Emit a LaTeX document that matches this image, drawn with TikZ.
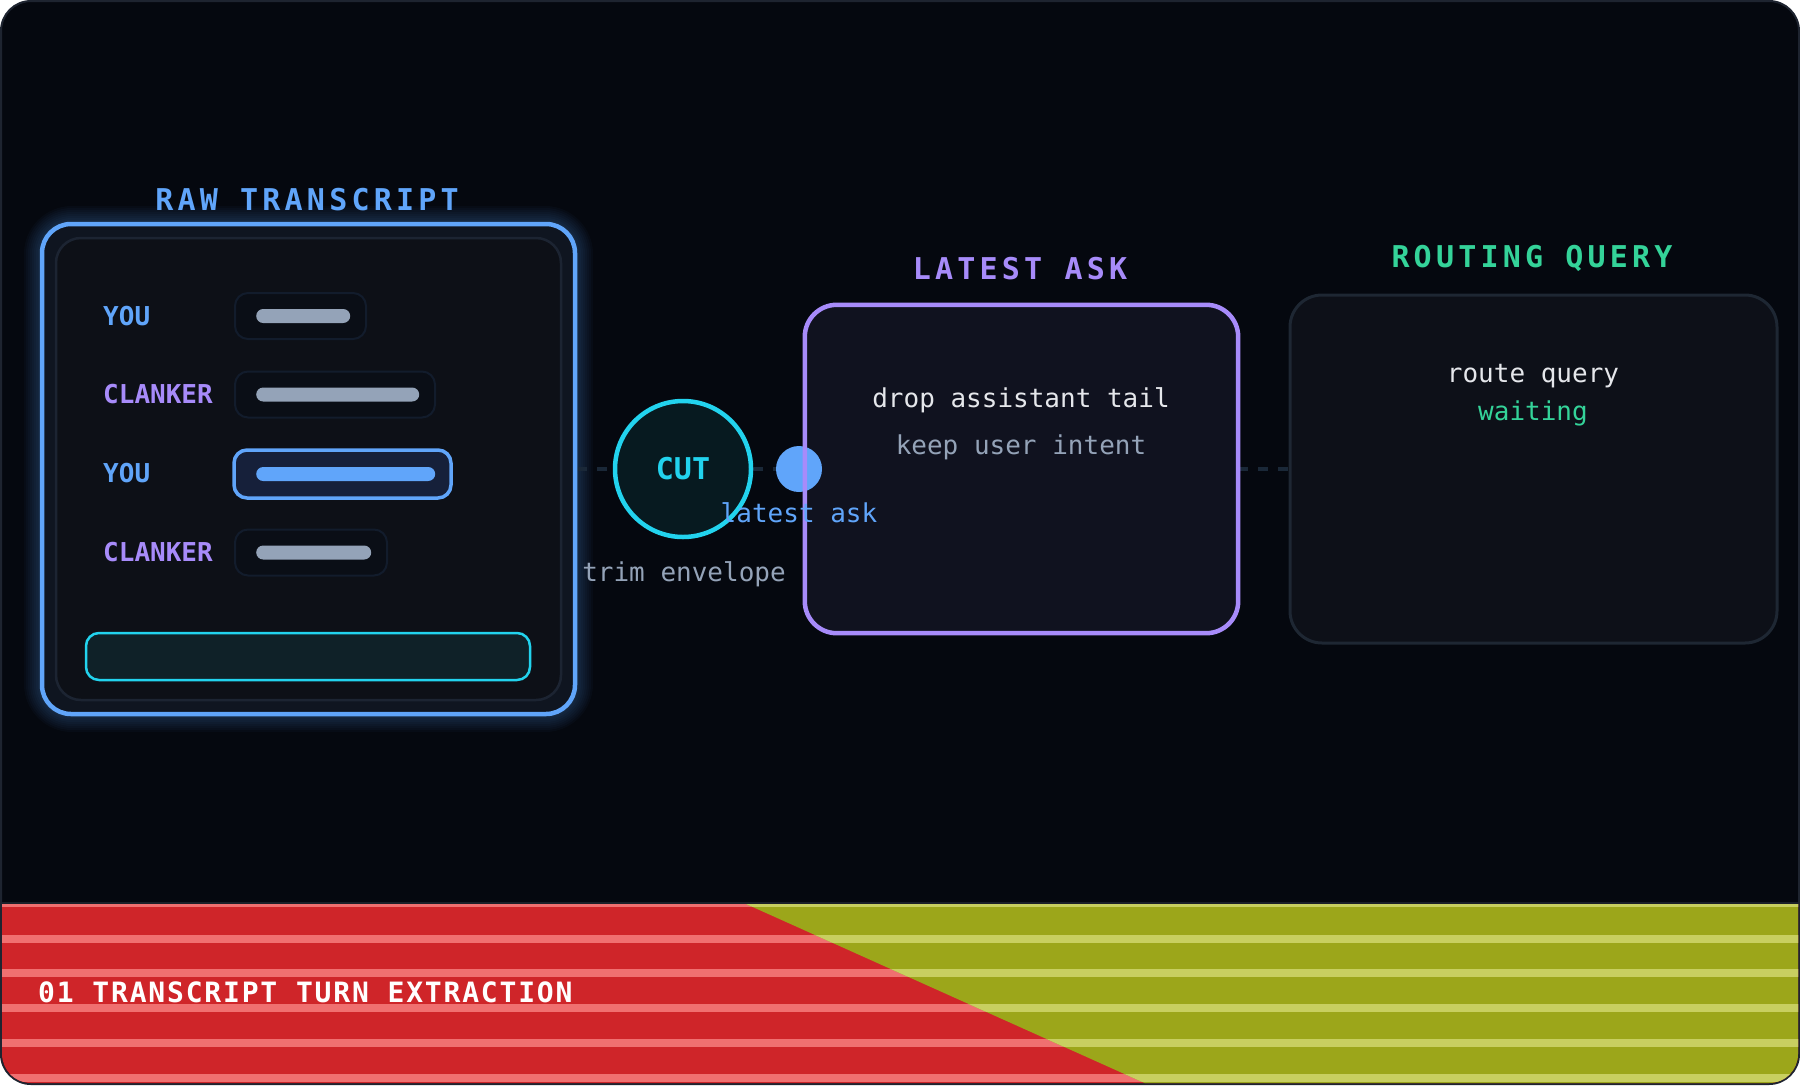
\documentclass[tikz,border=0pt]{standalone}
\usepackage{fontspec}
\newfontfamily\mono{DejaVu Sans Mono}
\newfontfamily\monotitle[LetterSpace=14]{DejaVu Sans Mono}
\newfontfamily\monoband[LetterSpace=6.5]{DejaVu Sans Mono}
\usetikzlibrary{calc}
\pgfdeclarelayer{back}
\pgfdeclarelayer{mid}
\pgfsetlayers{back,mid,main}
\definecolor{bgc}{HTML}{05080F}
\definecolor{framec}{HTML}{1E2430}
\definecolor{bluec}{HTML}{60A5FA}
\definecolor{purplec}{HTML}{A78BFA}
\definecolor{cyanc}{HTML}{22D3EE}
\definecolor{greenc}{HTML}{34D399}
\definecolor{grayc}{HTML}{94A3B8}
\definecolor{whitec}{HTML}{E5E7EB}
\definecolor{gapc}{HTML}{0F1520}
\definecolor{panelfill}{HTML}{0D1017}
\definecolor{panelborder}{HTML}{1C2432}
\definecolor{pillfill}{HTML}{0A0E16}
\definecolor{pillborder}{HTML}{121C2C}
\definecolor{hlfill}{HTML}{16203A}
\definecolor{barfill}{HTML}{0F2128}
\definecolor{cutfill}{HTML}{071A20}
\definecolor{latestfill}{HTML}{10121F}
\definecolor{routefill}{HTML}{0D1018}
\definecolor{routeborder}{HTML}{1E2733}
\definecolor{dashc}{HTML}{1A2838}
\definecolor{redc}{HTML}{CF2529}
\definecolor{redstripe}{HTML}{F07070}
\definecolor{olivec}{HTML}{9CA61A}
\definecolor{olivestripe}{HTML}{C8CF60}
\definecolor{sepc}{HTML}{1B2029}
\begin{document}
\begin{tikzpicture}[x=1pt,y=-1pt,
  titletext/.style={font=\monotitle\bfseries\fontsize{30}{36}\selectfont, inner sep=0},
  bodytext/.style={font=\mono\fontsize{26}{30}\selectfont, inner sep=0},
  whotext/.style={font=\mono\bfseries\fontsize{26}{30}\selectfont, anchor=west, inner sep=0},
  pill/.style={rectangle, rounded corners=13, fill=pillfill, draw=pillborder, line width=2, inner sep=0, minimum height=46},
  bar/.style={rectangle, rounded corners=7, fill=grayc, inner sep=0, minimum height=14, anchor=west},
  conn/.style={draw=dashc, line width=3.5, dash pattern=on 10pt off 10pt}]
\useasboundingbox (0,0) rectangle (1800,1085);
\begin{pgfonlayer}{back}
\path[fill=bgc, draw=framec, line width=2, rounded corners=30] (1,1) rectangle (1799,1084);
\begin{scope}
\clip[rounded corners=29] (2,2) rectangle (1798,1083);
\fill[redc] (0,904) rectangle (1800,1085);
\foreach \y/\h in {904/2.5,935/7.5,969/8,1004/8,1039/8,1074/8} \fill[redstripe] (0,\y) rectangle (1800,\y+\h);
\begin{scope}
\clip (746,904) -- (1800,904) -- (1800,1085) -- (1149,1085) -- cycle;
\fill[olivec] (0,904) rectangle (1800,1085);
\foreach \y/\h in {904/2.5,935/7.5,969/8,1004/8,1039/8,1074/8} \fill[olivestripe] (0,\y) rectangle (1800,\y+\h);
\end{scope}
\end{scope}
\draw[sepc, line width=2] (2,903) -- (1798,903);
% glow
\foreach \g in {2,4,...,18} {
  \fill[bluec, opacity=0.03, rounded corners=30+\g] (42-\g,224-\g) rectangle (575+\g,714+\g);
}
\end{pgfonlayer}

% left panel
\node[rectangle, rounded corners=29, fill=gapc, draw=bluec, line width=4.5, minimum width=533, minimum height=490, inner sep=0] (outer) at (308.5,469) {};
\node[rectangle, rounded corners=25, fill=panelfill, draw=panelborder, line width=2.5, minimum width=505, minimum height=462, inner sep=0] (inner) at (308.5,469) {};
\node[titletext, text=bluec] (rawtitle) at (307,200) {RAW TRANSCRIPT};

\node[whotext, text=bluec] (who1) at (103,316) {YOU};
\node[pill, minimum width=131] (p1) at (300.5,316) {};
\node[bar, minimum width=94] (b1) at (256,316) {};

\node[whotext, text=purplec] (who2) at (103,394.5) {CLANKER};
\node[pill, minimum width=200] (p2) at (335,394.5) {};
\node[bar, minimum width=163] (b2) at (256,394.5) {};

\node[whotext, text=bluec] (who3) at (103,473.5) {YOU};
\node[pill, minimum width=217, minimum height=48, fill=hlfill, draw=bluec, line width=3.5] (p3) at (342.5,474) {};
\node[bar, minimum width=179, fill=bluec] (b3) at (256,474) {};

\node[whotext, text=purplec] (who4) at (103,552.5) {CLANKER};
\node[pill, minimum width=152] (p4) at (311,552.5) {};
\node[bar, minimum width=115] (b4) at (256,552.5) {};

\node[rectangle, rounded corners=13, fill=barfill, draw=cyanc, line width=2.5, minimum width=444, minimum height=47, inner sep=0] (envbar) at (308,656.5) {};

% cut
\node[circle, fill=cutfill, draw=cyanc, line width=4.5, minimum size=136, inner sep=0, font=\mono\bfseries\fontsize{30}{36}\selectfont, text=cyanc] (cut) at (683,469) {CUT};
\node[bodytext, text=grayc] (trim) at (684,574) {trim envelope};

% latest ask box
\node[rectangle, rounded corners=32, fill=latestfill, minimum width=433, minimum height=328, inner sep=0] (latest) at (1021.5,469) {};
\node[circle, fill=bluec, minimum size=46, inner sep=0] (dot) at (799,469) {};
\draw[purplec, line width=4.5, rounded corners=32] (latest.north west) rectangle (latest.south east);
\node[titletext, text=purplec] (latesttitle) at (1020,269) {LATEST ASK};
\node[bodytext, text=whitec] (drop) at (1021,400.5) {drop assistant tail};
\node[bodytext, text=grayc] (keep) at (1021,447.5) {keep user intent};

% routing box
\node[rectangle, rounded corners=32, fill=routefill, draw=routeborder, line width=3, minimum width=487, minimum height=348, inner sep=0] (route) at (1533.5,469) {};
\node[titletext, text=greenc] (routetitle) at (1532,258) {ROUTING QUERY};
\node[bodytext, text=whitec] (rq) at (1533,376) {route query};
\node[bodytext, text=greenc] (wait) at (1533,413.5) {waiting};

\node[bodytext, text=bluec] (lask) at (799,513) {latest ask};

\node[anchor=west, font=\monoband\bfseries\fontsize{28}{32}\selectfont, text=white, inner sep=0] (bandtext) at (38,992.5) {01 TRANSCRIPT TURN EXTRACTION};

\begin{pgfonlayer}{mid}
\draw[conn] (outer) -- (cut);
\draw[conn] (cut) -- (dot);
\draw[conn] (latest) -- (route);
\end{pgfonlayer}
\end{tikzpicture}
\end{document}
